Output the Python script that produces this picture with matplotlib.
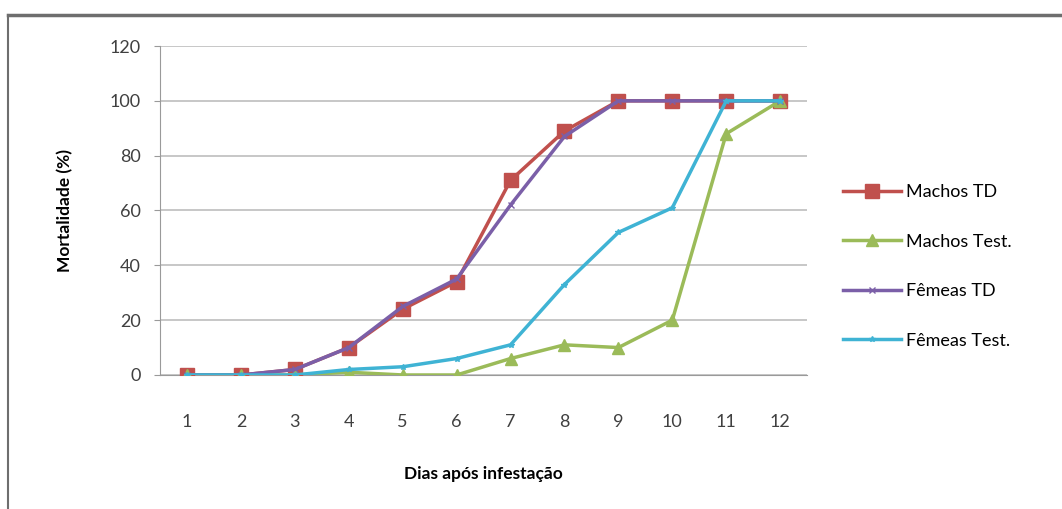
import numpy as np
import matplotlib.pyplot as plt
from matplotlib.lines import Line2D

# data
dias = np.arange(1, 13)
machos_td = [0, 0, 2, 10, 24, 34, 71, 89, 100, 100, 100, 100]
machos_test = [0, 0, 0, 1, 0, 0, 6, 11, 10, 20, 88, 100]
femeas_td = [0, 0, 2, 10, 25, 35, 62, 87, 100, 100, 100, 100]
femeas_test = [0, 0, 0, 2, 3, 6, 11, 33, 52, 61, 100, 100]

plt.rcParams['font.family'] = ['Lato', 'DejaVu Sans']

fig = plt.figure(figsize=(10.62, 5.09), dpi=100)
ax = fig.add_axes([0.1507, 0.2633, 0.6093, 0.6463])

ax.plot(dias, machos_td, color='#C0504D', lw=2.5, marker='s', ms=10, label='Machos TD', zorder=3)
ax.plot(dias, machos_test, color='#9BBB59', lw=2.5, marker='^', ms=9, label='Machos Test.', zorder=3)
ax.plot(dias, femeas_td, color='#7B5FA8', lw=2.5, marker='x', ms=4, label='Fêmeas TD', zorder=4)
ax.plot(dias, femeas_test, color='#3FB3D4', lw=2.5, marker='*', ms=4, label='Fêmeas Test.', zorder=4)

ax.set_xlim(0.5, 12.5)
ax.set_ylim(0, 120)
ax.set_yticks(range(0, 121, 20))
ax.set_xticks(dias)
ax.grid(axis='y', color='#BDBDBD', lw=1.2)
ax.set_axisbelow(True)
for s in ['top', 'right']:
    ax.spines[s].set_visible(False)
ax.spines['left'].set_color('#9A9A9A')
ax.spines['bottom'].set_color('#9A9A9A')
ax.tick_params(axis='x', length=0, pad=28, labelsize=13, colors='#404040')
ax.tick_params(axis='y', length=4, color='#9A9A9A', pad=10, labelsize=13, colors='#404040')

ax.set_ylabel('Mortalidade (%)', fontsize=12.5, fontweight='bold', labelpad=26)
ax.set_xlabel('Dias após infestação', fontsize=12.5, fontweight='bold', labelpad=26)

ax.legend(loc='center left', bbox_to_anchor=(1.03, 0.33), frameon=False,
          fontsize=13, labelspacing=1.85, handlelength=3.2, handletextpad=0.3)

# frame of the screenshot
fig.add_artist(Line2D([0.008, 1.0], [0.97, 0.97], color='#6E6E6E', lw=2.5))
fig.add_artist(Line2D([0.008, 0.008], [0.0, 0.97], color='#6E6E6E', lw=1.5))

plt.savefig('out.png', dpi=100)
